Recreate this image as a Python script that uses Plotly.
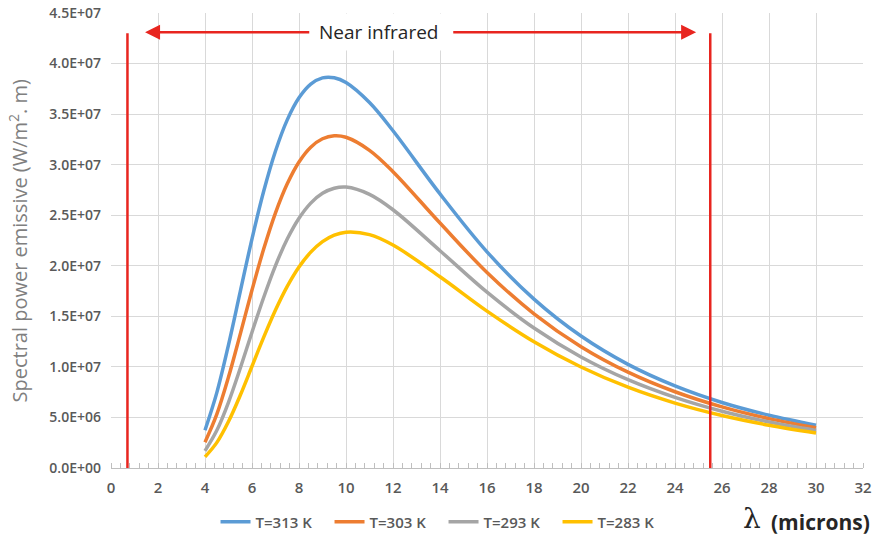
import plotly.graph_objects as go

# wavelength (microns)
wavelength = [4, 4.5, 5, 5.5, 6, 6.5, 7, 7.5, 8, 8.5, 9, 9.5, 10, 11, 12, 14, 16, 18,
              20, 22, 24, 26, 28, 30]

# spectral power emissive (W/m^2.m)
t313 = [3.73e6, 7.43e6, 1.218e7, 1.744e7, 2.267e7, 2.739e7, 3.135e7, 3.443e7, 3.661e7,
        3.796e7, 3.858e7, 3.859e7, 3.812e7, 3.614e7, 3.335e7, 2.711e7, 2.138e7, 1.670e7,
        1.305e7, 1.025e7, 8.12e6, 6.48e6, 5.22e6, 4.24e6]
t303 = [2.55e6, 5.30e6, 8.99e6, 1.324e7, 1.760e7, 2.168e7, 2.524e7, 2.811e7, 3.027e7,
        3.173e7, 3.256e7, 3.286e7, 3.271e7, 3.142e7, 2.931e7, 2.423e7, 1.934e7, 1.525e7,
        1.200e7, 9.48e6, 7.54e6, 6.04e6, 4.88e6, 3.98e6]
t293 = [1.70e6, 3.70e6, 6.50e6, 9.86e6, 1.343e7, 1.689e7, 2.002e7, 2.264e7, 2.470e7,
        2.620e7, 2.717e7, 2.767e7, 2.778e7, 2.706e7, 2.554e7, 2.149e7, 1.739e7, 1.384e7,
        1.098e7, 8.73e6, 6.98e6, 5.61e6, 4.55e6, 3.72e6]
t283 = [1.10e6, 2.51e6, 4.60e6, 7.19e6, 1.006e7, 1.294e7, 1.562e7, 1.796e7, 1.988e7,
        2.135e7, 2.239e7, 2.303e7, 2.332e7, 2.308e7, 2.205e7, 1.892e7, 1.552e7, 1.249e7,
        9.99e6, 7.99e6, 6.42e6, 5.19e6, 4.23e6, 3.46e6]

series_names = ["T=313 K", "T=303 K", "T=293 K", "T=283 K"]
series_values = [t313, t303, t293, t283]
series_colors = ["#5b9bd5", "#ed7d31", "#a5a5a5", "#ffc000"]

x_tickvals = list(range(0, 33, 2))
y_tickvals = [0, 5e6, 1e7, 1.5e7, 2e7, 2.5e7, 3e7, 3.5e7, 4e7, 4.5e7]
y_ticktext = ["0.0E+00", "5.0E+06", "1.0E+07", "1.5E+07", "2.0E+07",
              "2.5E+07", "3.0E+07", "3.5E+07", "4.0E+07", "4.5E+07"]

# near infrared markers
nir_left = 0.7
nir_right = 25.5
nir_top = 4.3e7
arrow_y = 4.31e7
arrow_left_end = 1.45
arrow_right_end = 24.9
label_x = 11.4

fig = go.Figure()
for name, vals, col in zip(series_names, series_values, series_colors):
    fig.add_trace(go.Scatter(x=wavelength, y=vals, mode="lines", name=name,
                             line=dict(color=col, width=3.5, shape="spline", smoothing=1.0)))

red = "#e8251f"
for xv in (nir_left, nir_right):
    fig.add_shape(type="line", x0=xv, x1=xv, y0=0, y1=nir_top, xref="x", yref="y",
                  line=dict(color=red, width=2.5))

# arrows
fig.add_annotation(x=arrow_left_end, y=arrow_y, ax=8.5, ay=arrow_y, xref="x", yref="y",
                   axref="x", ayref="y", text="", showarrow=True, arrowhead=2,
                   arrowsize=1.2, arrowwidth=2.5, arrowcolor=red)
fig.add_annotation(x=arrow_right_end, y=arrow_y, ax=14.5, ay=arrow_y, xref="x", yref="y",
                   axref="x", ayref="y", text="", showarrow=True, arrowhead=2,
                   arrowsize=1.2, arrowwidth=2.5, arrowcolor=red)
fig.add_annotation(x=label_x, y=arrow_y, xref="x", yref="y", text="Near infrared",
                   showarrow=False, bgcolor="white", borderpad=5,
                   font=dict(family="Open Sans", size=19, color="#262626"))

# y-axis title
fig.add_annotation(x=0, y=0.5, xref="paper", yref="paper", xanchor="center",
                   yanchor="middle", xshift=-93, textangle=-90, showarrow=False,
                   text="Spectral power emissive (W/m<sup>2</sup>. m)",
                   font=dict(family="Open Sans", size=20, color="#7f7f7f"))

# x-axis title: lambda symbol and unit
fig.add_annotation(x=0, y=0, xref="paper", yref="paper", xanchor="center",
                   yanchor="middle", xshift=752 - 111 + 0, yshift=-50, showarrow=False,
                   text="λ", font=dict(family="DejaVu Serif", size=28, color="#262626"))
fig.add_annotation(x=1.0, y=0, xref="paper", yref="paper", xanchor="right",
                   yanchor="middle", xshift=9, yshift=-54, showarrow=False,
                   text="<b>(microns)</b>",
                   font=dict(family="Open Sans", size=21, color="#262626"))

fig.update_layout(
    width=877, height=541,
    margin=dict(l=111, r=14, t=13, b=73, autoexpand=False),
    plot_bgcolor="white", paper_bgcolor="white",
    font=dict(family="Open Sans", color="#595959"),
    legend=dict(orientation="h", x=0.139, xanchor="left", xref="paper",
                y=0.035, yanchor="middle", yref="container",
                font=dict(size=15, color="#595959", weight=600), entrywidth=69,
                entrywidthmode="pixels", itemwidth=30),
    showlegend=True,
)
fig.update_xaxes(range=[0, 32], tickvals=x_tickvals, automargin=False,
                 showgrid=True, gridcolor="#d9d9d9", gridwidth=1,
                 showline=True, linecolor="#bfbfbf", linewidth=1,
                 zeroline=False, ticks="", ticklabelstandoff=6,
                 tickfont=dict(size=15, color="#595959", weight=600),
                 minor=dict(dtick=0.4, ticks="inside", ticklen=5, tickcolor="#bfbfbf",
                            showgrid=False))
fig.update_yaxes(range=[0, 4.5e7], tickvals=y_tickvals, ticktext=y_ticktext,
                 automargin=False,
                 showgrid=True, gridcolor="#d9d9d9", gridwidth=1,
                 zeroline=False, showline=False, ticks="", ticklabelstandoff=9,
                 tickfont=dict(size=14, color="#595959", weight=600))

fig.write_html("out.html", config={"displayModeBar": False},
               post_script="document.body.style.margin='0';")
